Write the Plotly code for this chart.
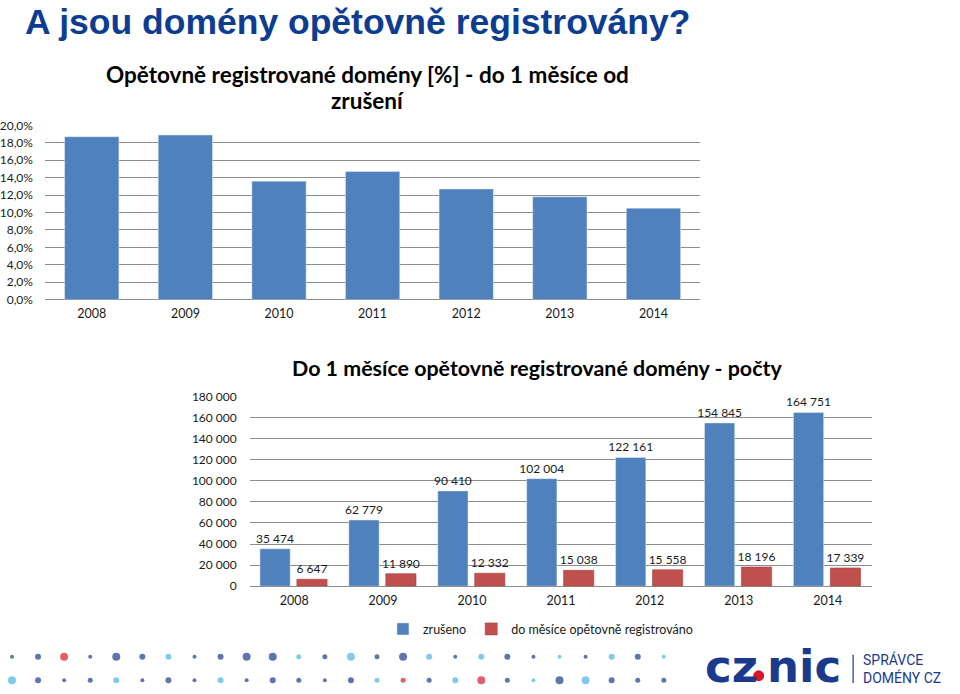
import plotly.graph_objects as go

# ---------------- data ----------------
years = ["2008", "2009", "2010", "2011", "2012", "2013", "2014"]
pct_reregistered = [18.7, 18.9, 13.6, 14.7, 12.7, 11.8, 10.5]
zruseno = [35474, 62779, 90410, 102004, 122161, 154845, 164751]
reregistrovano = [6647, 11890, 12332, 15038, 15558, 18196, 17339]

main_title = "A jsou domény opětovně registrovány?"
top_title_lines = ["Opětovně registrované domény [%] - do 1 měsíce od", "zrušení"]
bottom_title = "Do 1 měsíce opětovně registrované domény - počty"
series_names = ["zrušeno", "do měsíce opětovně registrováno"]

# decorative footer dots: colour code + size code per column
dots_row1 = ["ds", "dm", "rl", "ds", "dl", "dm", "bm", "ds", "dm", "dl", "dl", "bt", "dt",
             "bl", "dt", "dl", "bm", "ds", "bm", "dm", "ds", "bs", "ds", "bm", "dm", "bs"]
dots_row2 = ["bl", "dm", "ds", "dt", "bm", "ds", "dm", "ds", "bm", "ds", "dm", "dt", "ds",
             "dm", "bt", "rt", "dt", "bm", "rl", "dt", "bs", "dl", "bl", "dm", "dt", "dt"]

# ---------------- styles ----------------
BLUE = "#4F81BD"
RED = "#C0504D"
NAVY = "#1B3A8C"
LIGHT = "#4DB3E2"
DOTRED = "#D7192D"
GRID = "#8C8C8C"
FONT = "Lato"
TXT = "#1a1a1a"
W, H = 960, 694

colmap = {"d": NAVY, "b": LIGHT, "r": DOTRED}
sizemap = {"s": 4, "t": 5, "m": 6, "l": 8}

fig = go.Figure()

# top chart
fig.add_trace(go.Bar(
    x=years, y=pct_reregistered, marker_color=BLUE, width=0.58,
    xaxis="x", yaxis="y", showlegend=False, hoverinfo="x+y"))

# bottom chart
label_font = dict(family=FONT, size=12, color=TXT)
fig.add_trace(go.Bar(
    x=years, y=zruseno, name=series_names[0], marker_color=BLUE,
    width=0.34, offset=-0.385, xaxis="x2", yaxis="y2",
    text=zruseno, texttemplate="%{y:,d}", textposition="outside",
    constraintext="none", textfont=label_font, cliponaxis=False))
fig.add_trace(go.Bar(
    x=years, y=reregistrovano, name=series_names[1], marker_color=RED,
    marker_line=dict(color="#9E4442", width=0.6),
    width=0.34, offset=0.03, xaxis="x2", yaxis="y2",
    text=reregistrovano, texttemplate="%{y:,d}", textposition="outside",
    constraintext="none", textfont=label_font, cliponaxis=False))

# footer dots drawn on a pixel overlay axis
for row, yy in ((dots_row1, 663), (dots_row2, 687)):
    fig.add_trace(go.Scatter(
        x=[11 + i * 26.1 for i in range(len(row))], y=[yy] * len(row),
        mode="markers", xaxis="x3", yaxis="y3", showlegend=False, hoverinfo="skip",
        marker=dict(color=[colmap[c[0]] for c in row], size=[sizemap[c[1]] for c in row],
                    line=dict(width=0))))

def px(x):
    return x / W

def py(y):
    return 1 - y / H

axis_font = dict(family=FONT, size=12.5, color=TXT)
ytick_font = dict(family=FONT, size=12, color=TXT)

fig.update_layout(
    width=W, height=H, margin=dict(l=0, r=0, t=0, b=0),
    paper_bgcolor="white", plot_bgcolor="rgba(0,0,0,0)",
    separators=", ",
    barmode="group",
    font=dict(family=FONT, color=TXT),
    xaxis=dict(domain=[px(44), px(700)], showgrid=False, showline=False, ticks="",
               tickfont=axis_font, ticklabelstandoff=5, fixedrange=True),
    yaxis=dict(domain=[py(298), py(120)], range=[0, 20], dtick=2, tickformat=".1f",
               ticksuffix="%", showgrid=True, gridcolor=GRID, gridwidth=1,
               zeroline=True, zerolinecolor=GRID, zerolinewidth=1, showline=False,
               tickfont=ytick_font, ticklabelstandoff=11, fixedrange=True),
    xaxis2=dict(domain=[px(249), px(872)], anchor="y2", showgrid=False, showline=False,
                ticks="", tickfont=axis_font, ticklabelstandoff=5, fixedrange=True),
    yaxis2=dict(domain=[py(591), py(397)], anchor="x2", range=[0, 180000], dtick=20000,
                tickformat=",d", showgrid=True, gridcolor=GRID, gridwidth=1,
                zeroline=True, zerolinecolor=GRID, zerolinewidth=1, showline=False,
                tickfont=ytick_font, ticklabelstandoff=12, fixedrange=True),
    xaxis3=dict(domain=[0, 1], range=[0, W], visible=False, anchor="y3", fixedrange=True),
    yaxis3=dict(domain=[0, 1], range=[H, 0], visible=False, anchor="x3", fixedrange=True),
    legend=dict(orientation="h", x=px(540), xanchor="center", y=py(635), yanchor="middle",
                font=dict(family=FONT, size=12.5, color=TXT), itemwidth=30,
                traceorder="normal", bgcolor="rgba(0,0,0,0)"),
    showlegend=True,
)

annotations = [
    dict(text="<b>" + main_title + "</b>", x=22, y=14, xref="x3", yref="y3",
         xanchor="left", yanchor="middle", showarrow=False,
         font=dict(family="Liberation Sans", size=35.5, color="#0D3D91")),
    dict(text="<b>" + top_title_lines[0] + "</b>", x=367, y=68,
         xref="x3", yref="y3", xanchor="center", yanchor="middle", showarrow=False,
         font=dict(family=FONT, size=22.5, color="#000000")),
    dict(text="<b>" + top_title_lines[1] + "</b>", x=367, y=95,
         xref="x3", yref="y3", xanchor="center", yanchor="middle", showarrow=False,
         font=dict(family=FONT, size=22.5, color="#000000")),
    dict(text="<b>" + bottom_title + "</b>", x=537, y=368, xref="x3", yref="y3",
         xanchor="center", yanchor="middle", showarrow=False,
         font=dict(family=FONT, size=21.4, color="#000000")),
    # logo
    dict(text="<b>cz</b>", x=703, y=673, xref="x3", yref="y3", xanchor="left",
         yanchor="middle", showarrow=False,
         font=dict(family="DejaVu Sans", size=45, color=NAVY)),
    dict(text="<b>nic</b>", x=765, y=673, xref="x3", yref="y3", xanchor="left",
         yanchor="middle", showarrow=False,
         font=dict(family="DejaVu Sans", size=45, color=NAVY)),
    dict(text="SPRÁVCE", x=861, y=666, xref="x3", yref="y3", xanchor="left",
         yanchor="middle", showarrow=False, font=dict(family="Roboto", size=14, color=NAVY)),
    dict(text="DOMÉNY CZ", x=861, y=684.5, xref="x3", yref="y3", xanchor="left",
         yanchor="middle", showarrow=False, font=dict(family="Roboto", size=14, color=NAVY)),
]
fig.update_layout(annotations=annotations)

fig.update_layout(shapes=[
    dict(type="circle", xref="x3", yref="y3", x0=753, x1=764, y0=677, y1=688,
         fillcolor=DOTRED, line=dict(width=0)),
    dict(type="line", xref="x3", yref="y3", x0=853, x1=853, y0=661, y1=690,
         line=dict(color=NAVY, width=1.2)),
])

fig.write_html("out.html")
